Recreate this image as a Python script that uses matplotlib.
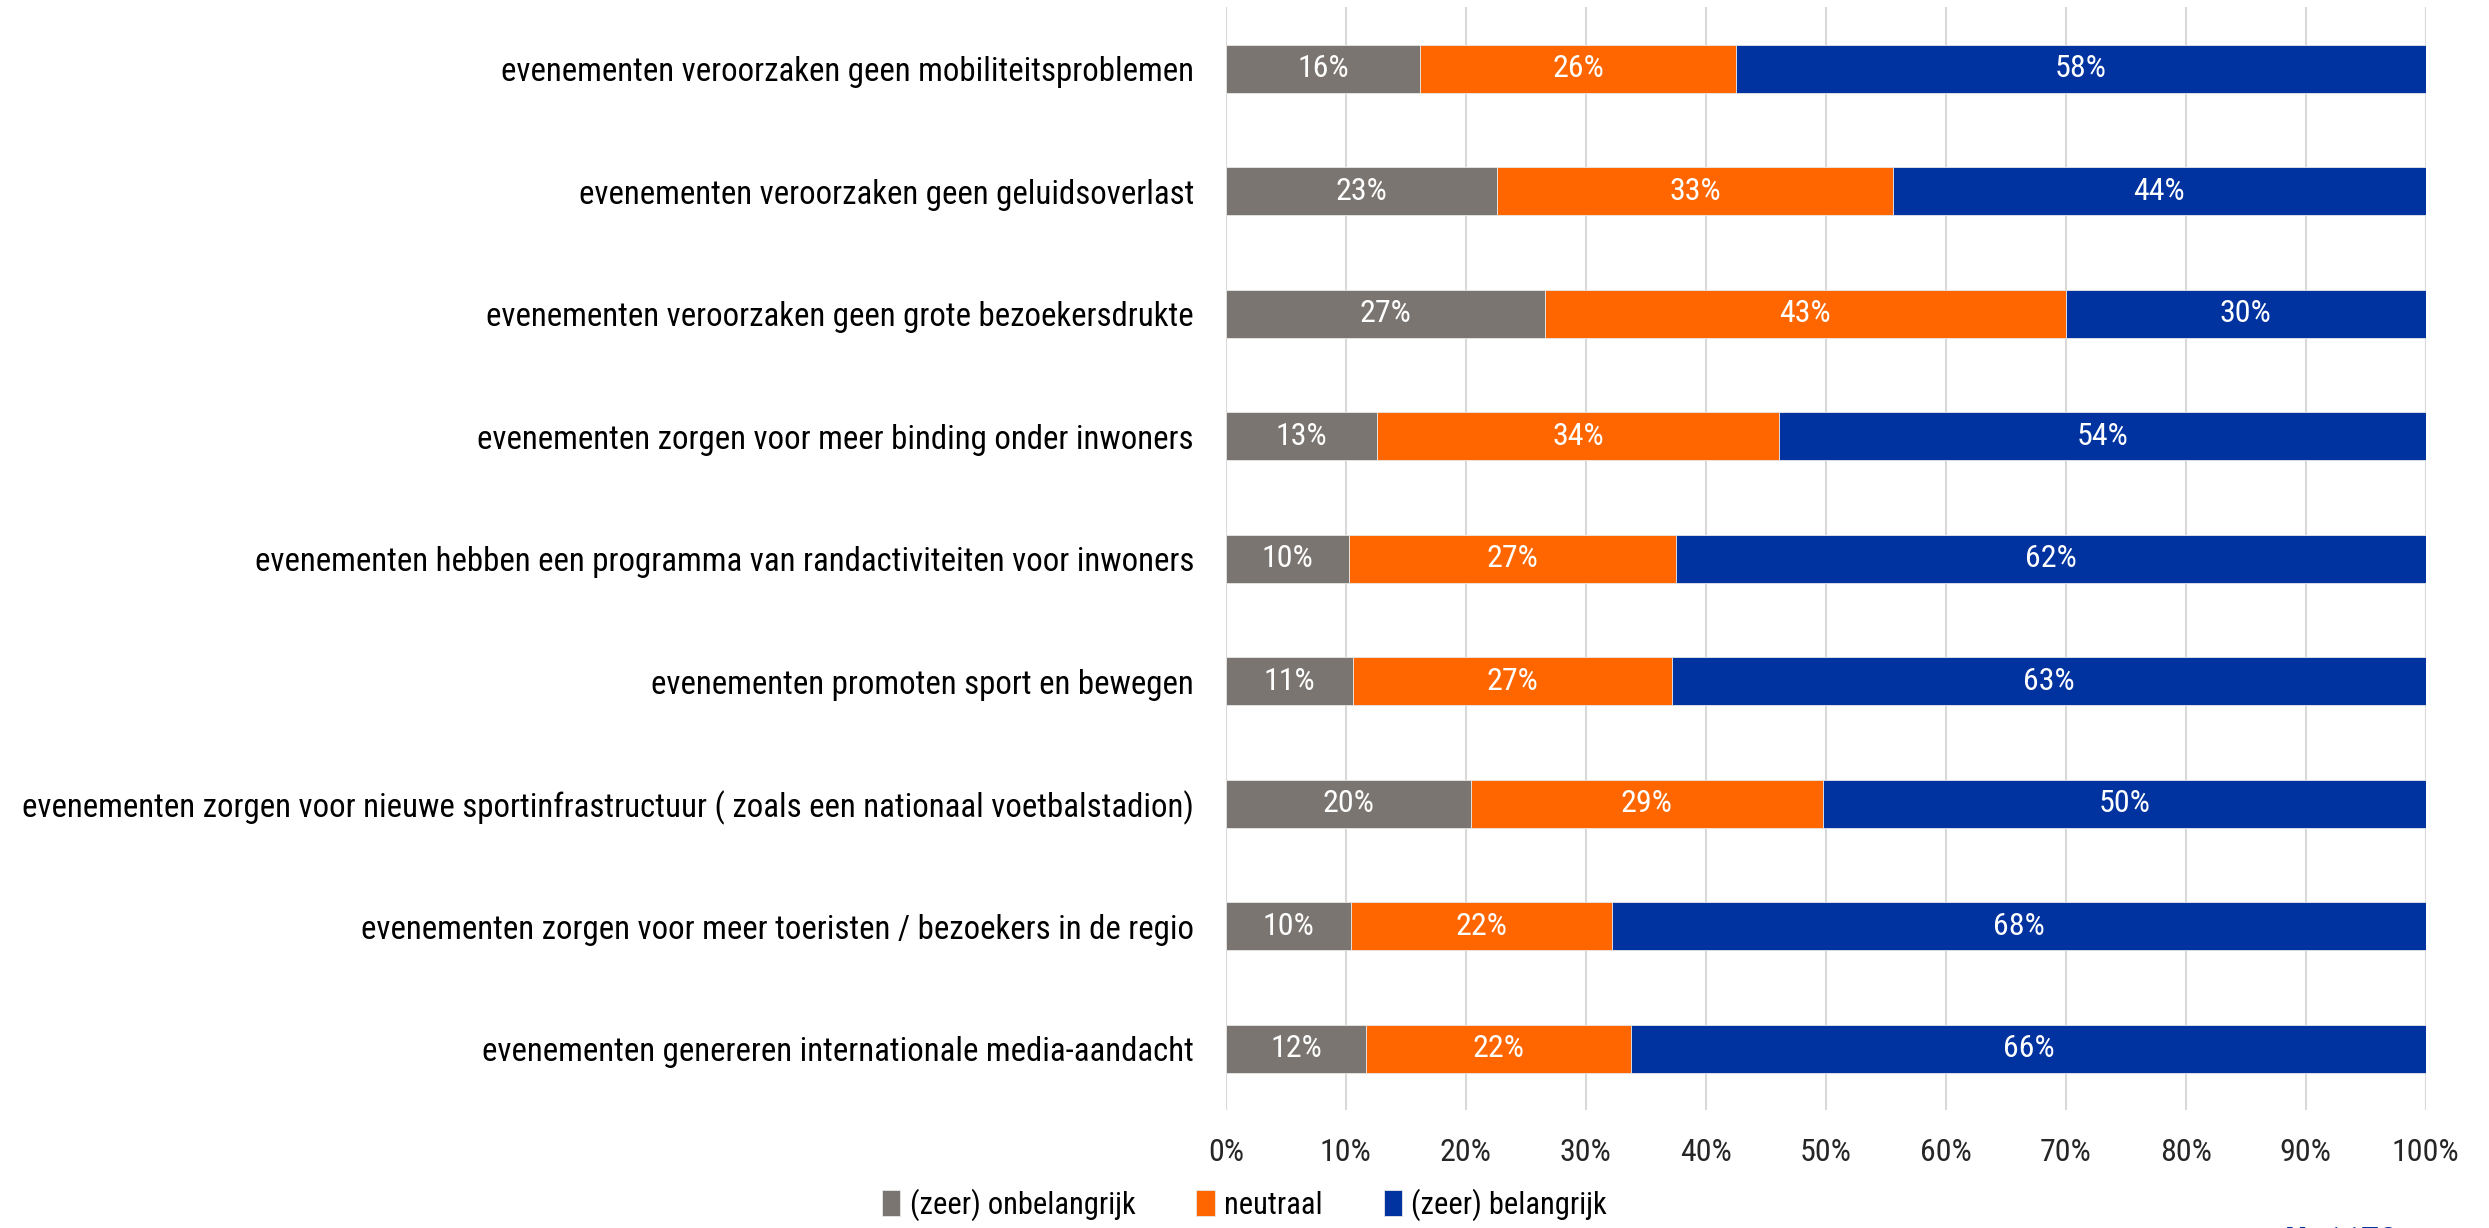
import matplotlib
matplotlib.use("Agg")
import matplotlib.pyplot as plt
import numpy as np

plt.rcParams['font.family'] = ['Liberation Sans Narrow', 'Roboto Condensed', 'Lato', 'DejaVu Sans']

statements = [
    "evenementen veroorzaken geen mobiliteitsproblemen",
    "evenementen veroorzaken geen geluidsoverlast",
    "evenementen veroorzaken geen grote bezoekersdrukte",
    "evenementen zorgen voor meer binding onder inwoners",
    "evenementen hebben een programma van randactiviteiten voor inwoners",
    "evenementen promoten sport en bewegen",
    "evenementen zorgen voor nieuwe sportinfrastructuur ( zoals een nationaal voetbalstadion)",
    "evenementen zorgen voor meer toeristen / bezoekers in de regio",
    "evenementen genereren internationale media-aandacht",
]
onbelangrijk = [16.2, 22.6, 26.6, 12.6, 10.3, 10.6, 20.4, 10.4, 11.7]
neutraal = [26.3, 33.0, 43.4, 33.5, 27.2, 26.6, 29.4, 21.8, 22.1]
belangrijk = [57.5, 44.4, 30.0, 54.0, 62.5, 62.8, 50.2, 67.8, 66.2]
series = [
    ("(zeer) onbelangrijk", onbelangrijk, "#7a7570"),
    ("neutraal", neutraal, "#ff6600"),
    ("(zeer) belangrijk", belangrijk, "#0033a0"),
]

fig = plt.figure(figsize=(24.89, 12.28), dpi=100)
ax = fig.add_axes([0.4925, 0.096, 0.9745 - 0.4925, 0.898])

y = np.arange(len(statements))
left = np.zeros(len(statements))
for name, vals, color in series:
    vals = np.array(vals)
    bars = ax.barh(y, vals, left=left, height=0.39, color=color, label=name,
                   edgecolor="#e8e8e8", linewidth=0.6, zorder=3)
    ax.bar_label(bars, labels=[f"{v:.0f}%" for v in vals], label_type="center",
                 color="white", fontsize=23)
    left += vals

ax.set_xlim(0, 100)
ax.set_ylim(len(statements) - 0.5, -0.5)
ax.set_yticks(y)
ax.set_yticklabels(statements, fontsize=23.7, color="black")
ax.set_xticks(np.arange(0, 101, 10))
ax.set_xticklabels([f"{t}%" for t in range(0, 101, 10)], fontsize=23, color="#262626")
ax.tick_params(axis="both", length=0)
ax.tick_params(axis="x", pad=20)
ax.tick_params(axis="y", pad=23)
ax.grid(axis="x", color="#d9d9d9", linewidth=1.5, zorder=0)
for s in ax.spines.values():
    s.set_visible(False)

fig.legend(loc="center", bbox_to_anchor=(0.5, 0.019), ncol=3, frameon=False,
           fontsize=22, handlelength=0.6, handleheight=0.9, handletextpad=0.3,
           columnspacing=2.0)

fig.text(0.918, 1 - 1225 / 1228, "N=1178", color="#0033a0", fontsize=26,
         fontweight="bold", va="top", ha="left")

fig.savefig("out.png", dpi=100)
